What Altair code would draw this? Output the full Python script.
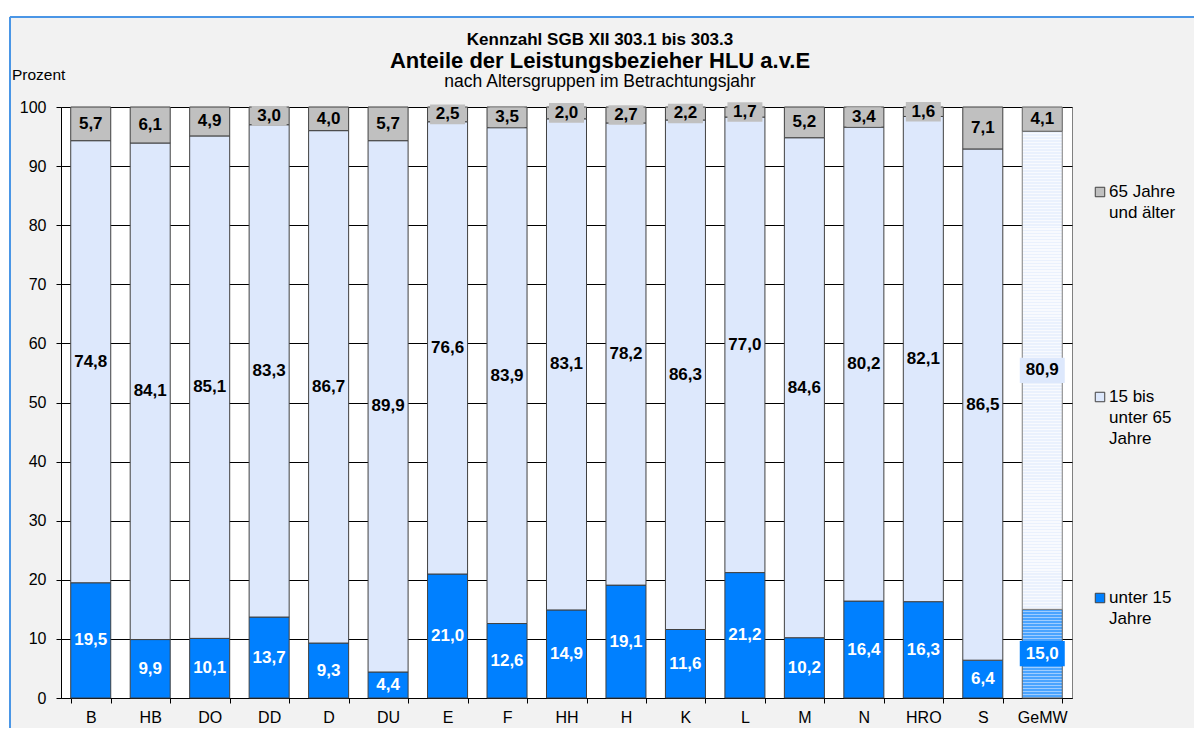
import altair as alt
import pandas as pd

# ---------------- data ----------------
cats = ["B", "HB", "DO", "DD", "D", "DU", "E", "F", "HH", "H", "K", "L", "M", "N", "HRO", "S", "GeMW"]
u15 = [19.5, 9.9, 10.1, 13.7, 9.3, 4.4, 21.0, 12.6, 14.9, 19.1, 11.6, 21.2, 10.2, 16.4, 16.3, 6.4, 15.0]
mid = [74.8, 84.1, 85.1, 83.3, 86.7, 89.9, 76.6, 83.9, 83.1, 78.2, 86.3, 77.0, 84.6, 80.2, 82.1, 86.5, 80.9]
o65 = [5.7, 6.1, 4.9, 3.0, 4.0, 5.7, 2.5, 3.5, 2.0, 2.7, 2.2, 1.7, 5.2, 3.4, 1.6, 7.1, 4.1]
groups = ["u15", "mid", "o65"]
legend_texts = ["unter 15|Jahre", "15 bis|unter 65|Jahre", "65 Jahre|und älter"]
title_lines = ["Kennzahl SGB XII 303.1 bis 303.3",
               "Anteile der Leistungsbezieher HLU a.v.E",
               "nach Altersgruppen im Betrachtungsjahr"]
y_title = "Prozent"
y_ticks = [0, 10, 20, 30, 40, 50, 60, 70, 80, 90, 100]
special = "GeMW"

rows = []
for i, c in enumerate(cats):
    for k, (g, vals) in enumerate(zip(groups, [u15, mid, o65])):
        rows.append({"cat": c, "group": g, "order": k, "value": vals[i]})
df = pd.DataFrame(rows)

# ---------------- style ----------------
W, H = 1011, 591
FONT = "Liberation Sans"
colors = ["#0080ff", "#dde8fc", "#c0c0c0"]
BOX = "M-1,-0.56H1V0.56H-1Z"


def stripes(c1, c2, n, frac=0.55):
    stops = []
    for i in range(n):
        a, m, b = i / n, (i + frac) / n, (i + 1) / n
        stops += [alt.GradientStop(offset=a, color=c1), alt.GradientStop(offset=m, color=c1),
                  alt.GradientStop(offset=m, color=c2), alt.GradientStop(offset=b, color=c2)]
    return alt.LinearGradient(gradient="linear", stops=stops, x1=0, x2=0, y1=0, y2=1)


grad_blue = stripes("#4aa4ff", "#9fcdff", 30)
grad_light = stripes("#eaf1fd", "#f8fafe", 160)

base = (
    alt.Chart(df)
    .transform_joinaggregate(total="sum(value)", groupby=["cat"])
    .transform_calculate(pct="datum.value / datum.total * 100")
    .transform_stack(stack="pct", groupby=["cat"], sort=[alt.SortField("order")], as_=["y0", "y1"])
    .transform_calculate(ymid="(datum.y0 + datum.y1) / 2",
                         label="replace(format(datum.value, '.1f'), '.', ',')")
)

x = alt.X("cat:N", sort=cats, title=None,
          scale=alt.Scale(paddingInner=0.327, paddingOuter=0.1635),
          axis=alt.Axis(labelAngle=0, tickBand="extent", tickSize=5, labelPadding=6,
                        labelFontSize=16, domainColor="black", tickColor="black",
                        labelColor="black", grid=False))
yscale = alt.Scale(domain=[0, 100], nice=False, zero=True)
yaxis = alt.Axis(values=y_ticks, grid=True, gridColor="black", gridOpacity=1, gridWidth=1,
                 tickSize=5, labelPadding=10, labelFontSize=16, domainColor="black",
                 tickColor="black", labelColor="black")
cscale = alt.Scale(domain=groups, range=colors)

bars = base.transform_filter(f"datum.cat != '{special}'").mark_bar(
    stroke="#404040", strokeWidth=1).encode(
    x=x, y=alt.Y("y0:Q", scale=yscale, axis=yaxis, title=None), y2="y1:Q",
    color=alt.Color("group:N", scale=cscale, legend=None))

sp_u = base.transform_filter(f"datum.cat == '{special}' && datum.group == 'u15'").mark_bar(
    fill=grad_blue, stroke="#606060", strokeWidth=1).encode(x=x, y=alt.Y("y0:Q", title=None), y2="y1:Q")
sp_m = base.transform_filter(f"datum.cat == '{special}' && datum.group == 'mid'").mark_bar(
    fill=grad_light, stroke="#808080", strokeWidth=1).encode(x=x, y=alt.Y("y0:Q", title=None), y2="y1:Q")
sp_o = base.transform_filter(f"datum.cat == '{special}' && datum.group == 'o65'").mark_bar(
    fill=colors[2], stroke="#606060", strokeWidth=1).encode(x=x, y=alt.Y("y0:Q", title=None), y2="y1:Q")

box_top = base.transform_filter("datum.group == 'o65'").mark_point(
    shape=BOX, size=35 * 35, filled=True, opacity=1, strokeWidth=0).encode(
    x=x, y=alt.Y("ymid:Q", title=None), color=alt.value(colors[2]))
box_sp = base.transform_filter(f"datum.cat == '{special}' && datum.group != 'o65'").mark_point(
    shape=BOX, size=45 * 45, filled=True, opacity=1, strokeWidth=0).encode(
    x=x, y=alt.Y("ymid:Q", title=None),
    color=alt.Color("group:N", scale=cscale, legend=None))

labels = base.mark_text(fontWeight="bold", fontSize=17, baseline="middle", align="center").encode(
    x=x, y=alt.Y("ymid:Q", title=None), text="label:N",
    color=alt.condition("datum.group == 'u15'", alt.value("white"), alt.value("black")))

# ---------------- decorations ----------------
deco = alt.Chart(alt.Data(values=[{}]))
white_top = deco.mark_rect(color="white").encode(
    x=alt.value(-60), x2=alt.value(W + 200), y=alt.value(-110), y2=alt.value(-91))
white_left = deco.mark_rect(color="white").encode(
    x=alt.value(-60), x2=alt.value(-52), y=alt.value(-110), y2=alt.value(H + 200))
frame_top = deco.mark_rule(color="#4a96e6", strokeWidth=2).encode(
    x=alt.value(-51), x2=alt.value(W + 200), y=alt.value(-90), y2=alt.value(-90))
frame_left = deco.mark_rule(color="#4a96e6", strokeWidth=2).encode(
    x=alt.value(-51), x2=alt.value(-51), y=alt.value(-90), y2=alt.value(H + 200))

t1 = deco.mark_text(text=title_lines[0], fontSize=17, fontWeight="bold", align="center",
                    baseline="middle", color="black").encode(x=alt.value(539), y=alt.value(-67))
t2 = deco.mark_text(text=title_lines[1], fontSize=22, fontWeight="bold", align="center",
                    baseline="middle", color="black").encode(x=alt.value(539), y=alt.value(-46))
t3 = deco.mark_text(text=title_lines[2], fontSize=17.5, align="center",
                    baseline="middle", color="black").encode(x=alt.value(539), y=alt.value(-25))
tp = deco.mark_text(text=y_title, fontSize=15.5, align="left",
                    baseline="middle", color="black").encode(x=alt.value(-49), y=alt.value(-32))

legend_layers = []
leg_y = {"o65": 85, "mid": 290, "u15": 491}
for g, col, txt in zip(groups, colors, legend_texts):
    legend_layers.append(deco.mark_square(size=90, filled=True, opacity=1, color=col,
                                          stroke="#404040", strokeWidth=1).encode(
        x=alt.value(1039), y=alt.value(leg_y[g])))
    legend_layers.append(deco.mark_text(text=txt, lineBreak="|", lineHeight=21, fontSize=17,
                                        align="left", baseline="top", color="black").encode(
        x=alt.value(1048), y=alt.value(leg_y[g] - 8)))

chart = alt.layer(
    white_top, white_left, frame_top, frame_left,
    bars, sp_u, sp_m, sp_o, box_top, box_sp, labels,
    t1, t2, t3, tp, *legend_layers
).properties(
    width=W, height=H,
    padding={"left": 53, "top": 99, "right": 122, "bottom": 30},
    autosize=alt.AutoSizeParams(type="none"),
).configure(
    background="#f2f2f2", font=FONT
).configure_view(
    fill="white", stroke="#808080", strokeWidth=1
)

chart.save("out.html", embed_options={"renderer": "svg", "actions": False})
